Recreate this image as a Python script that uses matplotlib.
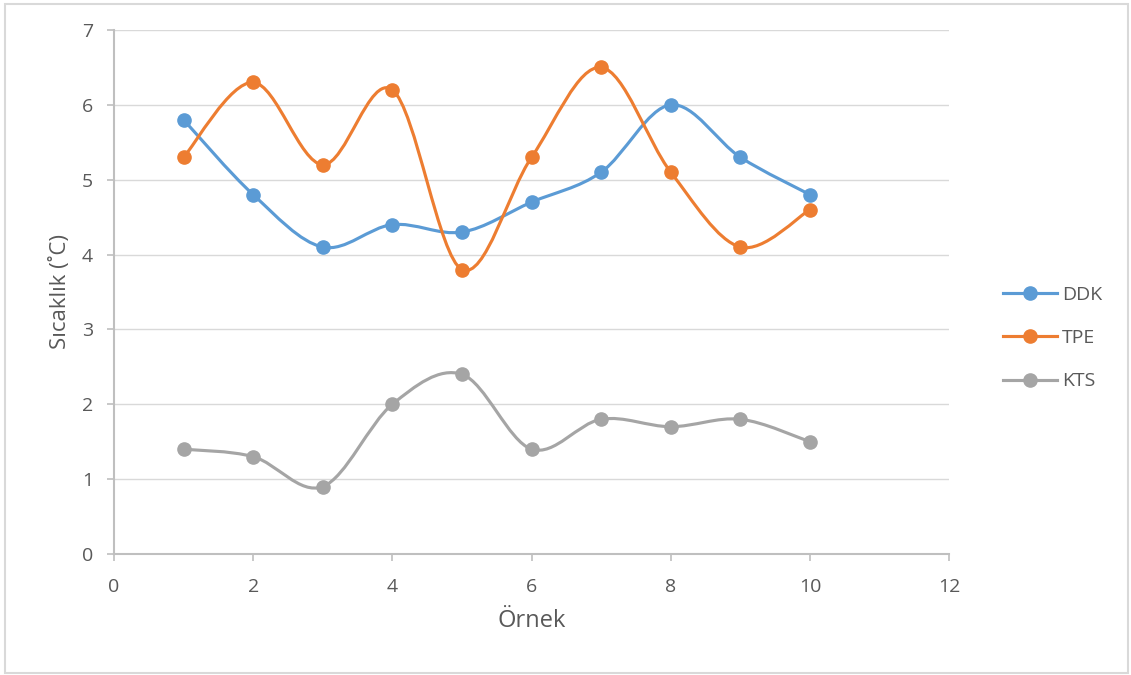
import matplotlib.pyplot as plt
from matplotlib.path import Path
from matplotlib.patches import PathPatch, Rectangle
from matplotlib.lines import Line2D

plt.rcParams['font.family'] = ['Open Sans', 'DejaVu Sans']

# sample numbers and measured temperatures
ornek = [1, 2, 3, 4, 5, 6, 7, 8, 9, 10]
ddk = [5.8, 4.8, 4.1, 4.4, 4.3, 4.7, 5.1, 6.0, 5.3, 4.8]
tpe = [5.3, 6.3, 5.2, 6.2, 3.8, 5.3, 6.5, 5.1, 4.1, 4.6]
kts = [1.4, 1.3, 0.9, 2.0, 2.4, 1.4, 1.8, 1.7, 1.8, 1.5]

series = [("DDK", ddk, "#5B9BD5"), ("TPE", tpe, "#ED7D31"), ("KTS", kts, "#A5A5A5")]


def smooth_path(xs, ys):
    # Excel-style smoothed line: cubic Bezier segments through each point
    pts = list(zip(xs, ys))
    n = len(pts)
    verts = [pts[0]]
    codes = [Path.MOVETO]
    for i in range(n - 1):
        p0 = pts[i - 1] if i > 0 else pts[i]
        p1 = pts[i]
        p2 = pts[i + 1]
        p3 = pts[i + 2] if i + 2 < n else pts[i + 1]
        c1 = (p1[0] + (p2[0] - p0[0]) / 6, p1[1] + (p2[1] - p0[1]) / 6)
        c2 = (p2[0] - (p3[0] - p1[0]) / 6, p2[1] - (p3[1] - p1[1]) / 6)
        verts += [c1, c2, p2]
        codes += [Path.CURVE4] * 3
    return Path(verts, codes)


fig = plt.figure(figsize=(11.31, 6.75), dpi=100)
ax = fig.add_axes([0.1008, 0.1793, 0.7384, 0.7763])

handles = []
for name, vals, color in series:
    ax.add_patch(PathPatch(smooth_path(ornek, vals), facecolor='none',
                           edgecolor=color, lw=2.25, capstyle='round', zorder=3))
    ax.plot(ornek, vals, 'o', color=color, markersize=9.5, zorder=4)
    handles.append(Line2D([], [], color=color, lw=2.25, marker='o', markersize=9.5))

ax.set_xlim(0, 12)
ax.set_ylim(0, 7)
ax.set_xticks(range(0, 13, 2))
ax.set_yticks(range(0, 8))
ax.grid(axis='y', color='#D9D9D9', lw=1)
ax.set_axisbelow(True)
for s in ['top', 'right']:
    ax.spines[s].set_visible(False)
for s in ['left', 'bottom']:
    ax.spines[s].set_color('#BFBFBF')
    ax.spines[s].set_linewidth(1.5)
ax.tick_params(colors='#BFBFBF', labelcolor='#595959', labelsize=14,
               length=5, width=1.2, direction='out')
ax.tick_params(axis='y', pad=10)
ax.tick_params(axis='x', pad=12)

ax.set_xlabel("Örnek", fontsize=17, color='#595959', labelpad=10)
ax.set_ylabel("Sıcaklık (˚C)", fontsize=16, color='#595959', labelpad=8)

ax.legend(handles, [s[0] for s in series], loc='center left',
          bbox_to_anchor=(0.871, 0.499), bbox_transform=fig.transFigure,
          frameon=False, fontsize=14, handlelength=2.8, handletextpad=0.26,
          labelspacing=1.3, labelcolor='#595959')

# outer chart border
fig.patches.append(Rectangle((5 / 1131, 2 / 675), 1123 / 1131, 669 / 675,
                             transform=fig.transFigure, fill=False,
                             edgecolor='#D9D9D9', lw=1.5))

fig.savefig("out.png", dpi=100)
